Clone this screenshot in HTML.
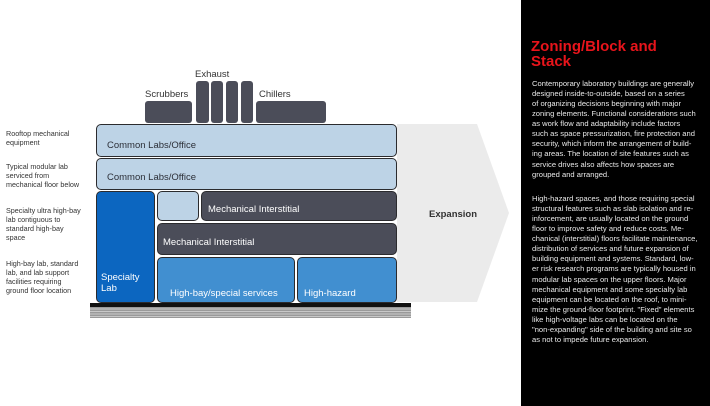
<!DOCTYPE html>
<html><head><meta charset="utf-8"><style>
*{margin:0;padding:0;box-sizing:border-box}
body{width:710px;height:406px;background:#fff;position:relative;overflow:hidden;font-family:"Liberation Sans",Arial,sans-serif}
.a{position:absolute}
.b{position:absolute;border:1.5px solid #2b2b2e;border-radius:5px;font-size:9.5px;color:#fff;white-space:nowrap}
.lb{background:#bdd3e6;color:#2c2f38}
.dk{background:#4b4d59;color:#fff}
.lab{position:absolute;font-size:7.2px;line-height:9px;color:#333;left:6px;white-space:nowrap}
.t{position:absolute;font-size:7.6px;line-height:10.07px;color:#e8e8e8;left:532px;white-space:nowrap}
</style></head><body>
<svg class="a" style="left:0;top:0" width="520" height="406">
<polygon points="397,124 477,124 509,213 477,302 397,302" fill="#ebebeb"/>
<rect x="90" y="303" width="321" height="4" fill="#111"/>
<rect x="90" y="307" width="321" height="11" fill="#9a9a9a"/>
<g stroke="#d8d8d8" stroke-width="0.8"><line x1="90" y1="309" x2="411" y2="309"/><line x1="90" y1="311.5" x2="411" y2="311.5"/><line x1="90" y1="314" x2="411" y2="314"/><line x1="90" y1="316.5" x2="411" y2="316.5"/></g>
<g fill="#4b4d59">
<rect x="145" y="101" width="47" height="22" rx="3"/>
<rect x="196" y="81" width="13" height="42" rx="3"/>
<rect x="211" y="81" width="12" height="42" rx="3"/>
<rect x="226" y="81" width="12" height="42" rx="3"/>
<rect x="241" y="81" width="12" height="42" rx="3"/>
<rect x="256" y="101" width="70" height="22" rx="3"/>
</g>
<text x="195" y="77" font-size="9.5" fill="#333" font-family="Liberation Sans">Exhaust</text>
<text x="145" y="97" font-size="9.5" fill="#333" font-family="Liberation Sans">Scrubbers</text>
<text x="259" y="97" font-size="9.5" fill="#333" font-family="Liberation Sans">Chillers</text>
<text x="429" y="217" font-size="9.5" font-weight="bold" fill="#333" font-family="Liberation Sans">Expansion</text>
</svg>
<div class="b lb" style="left:96px;top:124px;width:301px;height:33px;padding:15px 0 0 10px">Common Labs/Office</div>
<div class="b lb" style="left:96px;top:158px;width:301px;height:32px;padding:13px 0 0 10px">Common Labs/Office</div>
<div class="b" style="left:96px;top:191px;width:59px;height:112px;background:#0c66c0;padding:80px 0 0 4px;line-height:11px">Specialty<br>Lab</div>
<div class="b lb" style="left:157px;top:191px;width:42px;height:30px"></div>
<div class="b dk" style="left:201px;top:191px;width:196px;height:30px;padding:12px 0 0 6px">Mechanical Interstitial</div>
<div class="b dk" style="left:157px;top:223px;width:240px;height:32px;padding:13px 0 0 5px">Mechanical Interstitial</div>
<div class="b" style="left:157px;top:257px;width:138px;height:46px;background:#418fd0;padding:30px 0 0 12px">High-bay/special services</div>
<div class="b" style="left:297px;top:257px;width:100px;height:46px;background:#418fd0;padding:30px 0 0 6px">High-hazard</div>
<div class="lab" style="top:129px">Rooftop mechanical<br>equipment</div>
<div class="lab" style="top:162px">Typical modular lab<br>serviced from<br>mechanical floor below</div>
<div class="lab" style="top:206px">Specialty ultra high-bay<br>lab contiguous to<br>standard high-bay<br>space</div>
<div class="lab" style="top:259px">High-bay lab, standard<br>lab, and lab support<br>facilities requiring<br>ground floor location</div>
<div class="a" style="left:521px;top:0;width:189px;height:406px;background:#000"></div>
<div class="a" style="left:531px;top:39px;font-size:15px;line-height:15px;font-weight:bold;color:#e8141b">Zoning/Block and<br>Stack</div>
<div class="t" style="top:79px">Contemporary laboratory buildings are generally<br>designed inside-to-outside, based on a series<br>of organizing decisions beginning with major<br>zoning elements. Functional considerations such<br>as work flow and adaptability include factors<br>such as space pressurization, fire protection and<br>security, which inform the arrangement of build-<br>ing areas. The location of site features such as<br>service drives also affects how spaces are<br>grouped and arranged.</div>
<div class="t" style="top:194px">High-hazard spaces, and those requiring special<br>structural features such as slab isolation and re-<br>inforcement, are usually located on the ground<br>floor to improve safety and reduce costs. Me-<br>chanical (interstitial) floors facilitate maintenance,<br>distribution of services and future expansion of<br>building equipment and systems. Standard, low-<br>er risk research programs are typically housed in<br>modular lab spaces on the upper floors. Major<br>mechanical equipment and some specialty lab<br>equipment can be located on the roof, to mini-<br>mize the ground-floor footprint. "Fixed" elements<br>like high-voltage labs can be located on the<br>"non-expanding" side of the building and site so<br>as not to impede future expansion.</div>
</body></html>
